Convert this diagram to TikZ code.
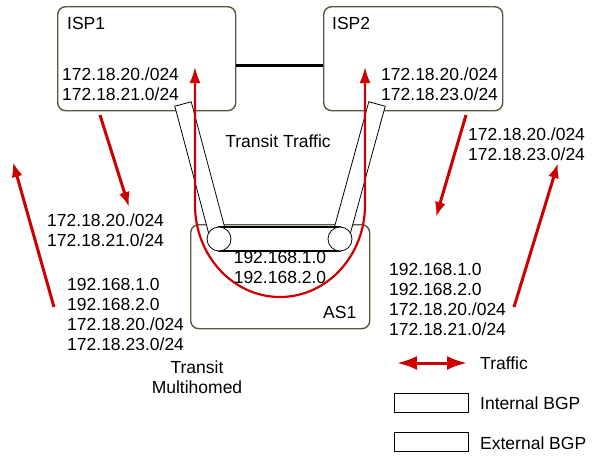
\documentclass[tikz,border=0pt]{standalone}
\usepackage{fontspec}
\setmainfont{Liberation Sans}
\usetikzlibrary{calc,arrows.meta}
\definecolor{boxline}{RGB}{92,88,64}
\definecolor{trafred}{RGB}{204,0,0}
\tikzset{
  router/.style={draw=boxline,line width=1.4pt,rounded corners=8pt,anchor=north west},
  traffic/.style={color=trafred,line width=3pt,-{Latex[length=15pt,width=11pt]}},
  ebgp/.style={draw=black,fill=white,line width=0.8pt},
  ibgp/.style={draw=black,fill=white,line width=1.3pt},
  lbl/.style={inner sep=0pt,align=left,anchor=north west,font=\fontsize{17.5}{20}\selectfont},
}
\begin{document}
\begin{tikzpicture}[x=1pt,y=-1pt]
\useasboundingbox (0,0) rectangle (594,458);

  %% i tre AS
  \node[router,minimum width=178pt,minimum height=104pt] (isp1) at (57,6) {};
  \node[router,minimum width=179pt,minimum height=104pt] (isp2) at (323,6) {};
  \node[router,minimum width=179pt,minimum height=104pt] (as1) at (190,224) {};
  \draw[line width=2.5pt] ([yshift=-7pt]isp1.east)--([yshift=-7pt]isp2.west);

  %% sessioni BGP
  \coordinate (e1) at (183,104);
  \coordinate (e2) at (377,104);
  \coordinate (r1) at (219,239);
  \coordinate (r2) at (340,239);
  \foreach \t/\r in {e1/r1,e2/r2}
    \draw[ebgp] ($(\t)!8.5pt!90:(\r)$)--($(\r)!8.5pt!-90:(\t)$)--($(\r)!8.5pt!90:(\t)$)--($(\t)!8.5pt!-90:(\r)$)--cycle;
  \draw[ibgp] ($(r1)+(0,-12)$) rectangle ($(r2)+(0,12)$);
  \node[ebgp,circle,minimum size=24pt,inner sep=0pt] (c1) at (r1) {};
  \node[ebgp,circle,minimum size=24pt,inner sep=0pt] (c2) at (r2) {};

  %% traffico di transito
  \coordinate (u1) at (195,67);
  \coordinate (u2) at (365,67);
  \draw[color=trafred,line width=2.2pt,{Latex[length=16pt,width=11pt]}-{Latex[length=16pt,width=11pt]}]
    (u1)--(195,205) arc[start angle=180,end angle=0,x radius=85,y radius=92]--(u2);

  %% annunci
  \coordinate (a1s) at (100,115); \coordinate (a1e) at (129,207);
  \coordinate (a2s) at (54,307);  \coordinate (a2e) at (13,162);
  \coordinate (a3s) at (466,115); \coordinate (a3e) at (436,217);
  \coordinate (a4s) at (514,307); \coordinate (a4e) at (558,163);
  \foreach \s/\e in {a1s/a1e,a2s/a2e,a3s/a3e,a4s/a4e} \draw[traffic] (\s)--(\e);

  %% testi
  \node[lbl] (isp1name) at (67,17) {ISP1};
  \node[lbl] (isp2name) at (332,17) {ISP2};
  \node[lbl] (isp1net) at (62,68) {172.18.20./024\\172.18.21.0/24};
  \node[lbl] (isp2net) at (381,68) {172.18.20./024\\172.18.23.0/24};
  \node[lbl,anchor=north,align=center] (tt) at (278,135) {Transit Traffic};
  \node[lbl] (toas1) at (47,214) {172.18.20./024\\172.18.21.0/24};
  \node[lbl] (toisp1) at (67,278) {192.168.1.0\\192.168.2.0\\172.18.20./024\\172.18.23.0/24};
  \node[lbl,anchor=north,align=center] (tm) at (197,361) {Transit\\Multihomed};
  \node[lbl] (toas1b) at (468,128) {172.18.20./024\\172.18.23.0/24};
  \node[lbl] (toisp2) at (389,263) {192.168.1.0\\192.168.2.0\\172.18.20./024\\172.18.21.0/24};
  \node[lbl,anchor=north,align=center] (as1net) at (280,251) {192.168.1.0\\192.168.2.0};
  \node[lbl] (as1name) at (323,306) {AS1};

  %% legenda
  \coordinate (lg1) at (397,363);
  \coordinate (lg2) at (467,363);
  \draw[traffic,{Latex[length=20pt,width=14pt]}-{Latex[length=20pt,width=14pt]}] (lg1)--(lg2);
  \node[lbl] (ltraf) at (480,357) {Traffic};
  \node[ibgp,minimum width=74pt,minimum height=19pt,anchor=north west] (libgp) at (394,393) {};
  \node[lbl] (libgptxt) at (480,397) {Internal BGP};
  \node[ebgp,minimum width=74pt,minimum height=19pt,anchor=north west] (lebgp) at (394,432) {};
  \node[lbl] (lebgptxt) at (480,437) {External BGP};
\end{tikzpicture}
\end{document}
